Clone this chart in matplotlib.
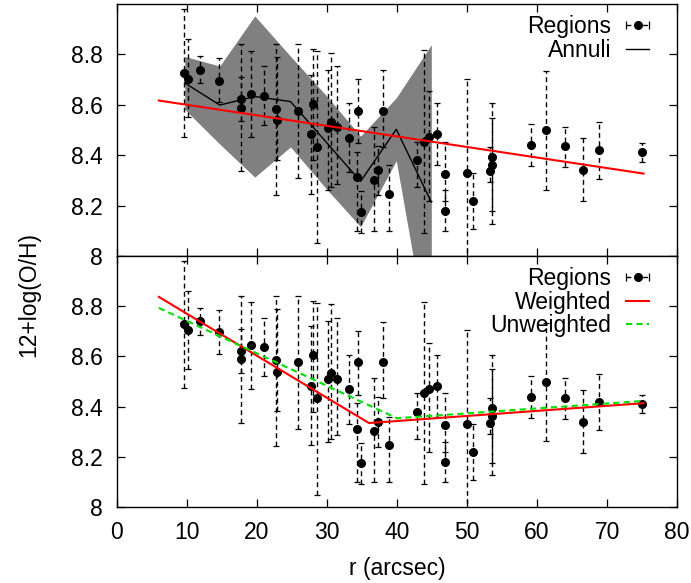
import numpy as np
import matplotlib
matplotlib.use('Agg')
import matplotlib.pyplot as plt

plt.rcParams['font.family'] = ['Liberation Sans', 'DejaVu Sans']
plt.rcParams['font.size'] = 16.5

# HII regions: radius, abundance, lower / upper error limits
reg_r = [9.6, 10.2, 11.9, 14.6, 17.8, 17.7, 19.2, 21.0, 22.8, 22.9, 25.8, 28.0,
         27.7, 28.6, 30.6, 30.1, 31.4, 33.1, 34.4, 34.3, 34.9, 36.7, 37.3, 38.0,
         38.9, 42.9, 43.9, 44.5, 45.7, 46.9, 46.8, 50.0, 50.9, 53.3, 53.6, 53.6,
         59.1, 61.3, 64.0, 66.5, 68.9, 75.0]
reg_oh = [8.728, 8.704, 8.740, 8.696, 8.622, 8.588, 8.644, 8.637, 8.585, 8.539, 8.577, 8.604,
          8.484, 8.433, 8.533, 8.509, 8.511, 8.469, 8.576, 8.313, 8.176, 8.303, 8.340, 8.577,
          8.247, 8.380, 8.453, 8.471, 8.484, 8.327, 8.180, 8.331, 8.220, 8.337, 8.363, 8.393,
          8.439, 8.499, 8.435, 8.341, 8.420, 8.411]
reg_lo = [8.473, 8.550, 8.687, 8.610, 8.536, 8.337, 8.472, 8.521, 8.242, 8.382, 8.310, 8.380,
          8.247, 8.050, 8.273, 8.260, 8.287, 8.333, 8.447, 8.100, 8.093, 8.100, 8.240, 8.433,
          8.100, 8.273, 8.093, 8.220, 8.360, 8.220, 8.100, 7.980, 8.107, 8.293, 8.177, 8.127,
          8.357, 8.263, 8.353, 8.217, 8.307, 8.373]
reg_hi = [8.980, 8.860, 8.793, 8.786, 8.711, 8.841, 8.815, 8.754, 8.840, 8.790, 8.842, 8.820,
          8.720, 8.813, 8.807, 8.740, 8.753, 8.607, 8.703, 8.413, 8.257, 8.513, 8.437, 8.737,
          8.360, 8.453, 8.817, 8.653, 8.607, 8.453, 8.260, 8.704, 8.331, 8.433, 8.549, 8.607,
          8.523, 8.733, 8.513, 8.467, 8.532, 8.447]

# annuli profile and its uncertainty
ann_r = [9.7, 14.7, 19.7, 24.8, 29.8, 34.8, 39.9, 44.9]
ann_oh = [8.687, 8.599, 8.633, 8.613, 8.455, 8.296, 8.503, 8.214]
ann_err = [0.105, 0.155, 0.32, 0.18, 0.185, 0.18, 0.125, 0.625]

# fits
fit_r = [6.0, 75.2]
fit_oh = [8.617, 8.327]
w_r = [6.0, 36.0, 75.2]
w_oh = [8.837, 8.335, 8.414]
uw_r = [6.0, 40.0, 75.2]
uw_oh = [8.793, 8.354, 8.423]

reg_r = np.array(reg_r)
reg_oh = np.array(reg_oh)
yerr = [reg_oh - np.array(reg_lo), np.array(reg_hi) - reg_oh]
ann_oh = np.array(ann_oh)
ann_err = np.array(ann_err)

fig = plt.figure(figsize=(6.91, 5.83), dpi=100)
ax1 = fig.add_axes([0.169, 0.561, 0.811, 0.432])
ax2 = fig.add_axes([0.169, 0.130, 0.811, 0.431])

dash = (0, (3.5, 2.5))


def regions(ax):
    eb = ax.errorbar(reg_r, reg_oh, yerr=yerr, fmt='o', color='k', ms=5.5,
                     elinewidth=1.0, capsize=2.5, capthick=0.9, zorder=3)
    eb[2][0].set_linestyle(dash)
    # proxy for the legend: horizontal bar with caps, like the original key
    pr = ax.errorbar([np.nan], [np.nan], xerr=[np.nan], fmt='o', color='k', ms=5.5,
                     elinewidth=1.0, capsize=3, capthick=0.9)
    pr[2][0].set_linestyle(dash)
    return pr


leg_kw = dict(loc='upper right', bbox_to_anchor=(0.966, 0.992), borderaxespad=0,
              frameon=False, markerfirst=False, handlelength=1.0, handletextpad=0.65,
              labelspacing=0.03, fontsize=16.5)

# top panel
ax1.fill_between(ann_r, ann_oh - ann_err, ann_oh + ann_err, color='#808080', lw=0, zorder=1)
ax1.plot(ann_r, ann_oh, color='k', lw=1, zorder=2)
p1 = regions(ax1)
ax1.plot(fit_r, fit_oh, color='#ff0000', lw=1.5, zorder=4)
l_ann, = ax1.plot([], [], color='k', lw=1)
ax1.legend([p1, l_ann], ['Regions', 'Annuli'], **leg_kw)

# bottom panel
p2 = regions(ax2)
l_w, = ax2.plot(w_r, w_oh, color='#ff0000', lw=1.5, zorder=4)
l_uw, = ax2.plot(uw_r, uw_oh, color='#00e000', lw=1.5, ls=(0, (3, 2)), zorder=4)
ax2.legend([p2, l_w, l_uw], ['Regions', 'Weighted', 'Unweighted'], **leg_kw)

for ax in (ax1, ax2):
    ax.set_xlim(0, 80)
    ax.set_ylim(8, 9.0)
    ax.set_xticks(np.arange(0, 81, 10))
    ax.set_yticks([8, 8.2, 8.4, 8.6, 8.8])
    ax.set_yticklabels(['8', '8.2', '8.4', '8.6', '8.8'])
    ax.tick_params(direction='in', length=6, width=0.9, top=True, right=True, pad=10,
                   labelsize=16.5)
    for s in ax.spines.values():
        s.set_linewidth(1)

ax1.tick_params(labelbottom=False)
ax2.set_xlabel('r (arcsec)', fontsize=16.5, labelpad=9)
fig.text(0.041, 0.494, '12+log(O/H)', rotation=90, ha='center', va='center', fontsize=16.5)

fig.savefig('out.png', dpi=100)
